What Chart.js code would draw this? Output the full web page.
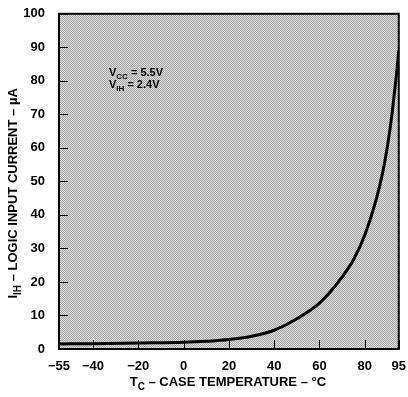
<!DOCTYPE html>
<html>
<head>
<meta charset="utf-8">
<script src="https://cdn.jsdelivr.net/npm/chart.js@4/dist/chart.umd.min.js"></script>
<style>
html, body { margin: 0; padding: 0; background: #fff; }
</style>
</head>
<body>
<canvas id="chart" width="408" height="397"></canvas>
<script>
// curve: case temperature (°C) vs logic input current (µA)
const temps = [-55, -40, -20, 0, 10, 20, 30, 40, 50, 60, 65, 70, 75, 80, 85, 88, 90, 92, 93, 94, 95];
const current = [1.5, 1.6, 1.8, 2.0, 2.3, 2.8, 3.8, 5.6, 9.0, 13.7, 17.2, 21.5, 26.6, 34, 44.5, 53, 60.5, 70, 76, 82, 89];
const xTicks = [-55, -40, -20, 0, 20, 40, 60, 80, 95];
const yTicks = [0, 10, 20, 30, 40, 50, 60, 70, 80, 90, 100];

const FONT = '"Liberation Sans", Arial, sans-serif';

// stipple fill for the plot area
function makePattern(ctx) {
    const c = document.createElement('canvas');
    c.width = 2; c.height = 2;
    const p = c.getContext('2d');
    p.fillStyle = '#dedede';
    p.fillRect(0, 0, 2, 2);
    p.fillStyle = '#a4a4a4';
    p.fillRect(0, 0, 1, 1);
    p.fillRect(1, 1, 1, 1);
    return ctx.createPattern(c, 'repeat');
}

// draw text pieces with subscripts, centred on x
function drawRich(ctx, parts, x, y, size) {
    let total = 0;
    parts.forEach(function(p) {
        ctx.font = 'bold ' + (p.sub ? size - 3 : size) + 'px ' + FONT;
        p.w = ctx.measureText(p.t).width;
        total += p.w;
    });
    let cx = x - total / 2;
    ctx.textAlign = 'left';
    ctx.textBaseline = 'alphabetic';
    parts.forEach(function(p) {
        ctx.font = 'bold ' + (p.sub ? size - 3 : size) + 'px ' + FONT;
        ctx.fillText(p.t, cx, p.sub ? y + 4 : y);
        cx += p.w;
    });
}

function drawLeft(ctx, parts, x, y, size) {
    let cx = x;
    ctx.textAlign = 'left';
    ctx.textBaseline = 'alphabetic';
    parts.forEach(function(p) {
        ctx.font = 'bold ' + (p.sub ? size - 3 : size) + 'px ' + FONT;
        ctx.fillText(p.t, cx, p.sub ? y + 3 : y);
        cx += ctx.measureText(p.t).width;
    });
}

const decor = {
    id: 'decor',
    beforeDatasetsDraw(chart) {
        const ctx = chart.ctx;
        const a = chart.chartArea;
        ctx.save();
        ctx.fillStyle = makePattern(ctx);
        ctx.fillRect(a.left, a.top, a.right - a.left, a.bottom - a.top);

        // inner tick marks
        ctx.strokeStyle = '#000';
        ctx.lineWidth = 1;
        const xs = chart.scales.x, ys = chart.scales.y;
        xTicks.forEach(function(v) {
            const px = Math.round(xs.getPixelForValue(v)) + 0.5;
            ctx.beginPath();
            ctx.moveTo(px, a.bottom);
            ctx.lineTo(px, a.bottom - 9);
            ctx.stroke();
        });
        yTicks.forEach(function(v) {
            const py = Math.round(ys.getPixelForValue(v)) + 0.5;
            ctx.beginPath();
            ctx.moveTo(a.left, py);
            ctx.lineTo(a.left + 9, py);
            ctx.stroke();
        });

        // annotation
        ctx.fillStyle = '#000';
        drawLeft(ctx, [{t: 'V'}, {t: 'CC', sub: true}, {t: ' = 5.5V'}], 109, 76, 11);
        drawLeft(ctx, [{t: 'V'}, {t: 'IH', sub: true}, {t: ' = 2.4V'}], 109, 88, 11);
        ctx.restore();
    },
    afterDraw(chart) {
        const ctx = chart.ctx;
        const a = chart.chartArea;
        ctx.save();
        ctx.strokeStyle = '#000';
        ctx.lineWidth = 2;
        ctx.strokeRect(a.left, a.top, a.right - a.left, a.bottom - a.top);

        ctx.fillStyle = '#000';
        drawRich(ctx, [{t: 'T'}, {t: 'C', sub: true}, {t: ' \u2013 CASE TEMPERATURE \u2013 \u00b0C'}],
            (a.left + a.right) / 2 - 1, 386, 13);

        ctx.translate(17, (a.top + a.bottom) / 2 + 12);
        ctx.rotate(-Math.PI / 2);
        drawRich(ctx, [{t: 'I'}, {t: 'IH', sub: true}, {t: ' \u2013 LOGIC INPUT CURRENT \u2013 \u00b5A'}], 0, 0, 13);
        ctx.restore();
    }
};

new Chart(document.getElementById('chart'), {
    type: 'line',
    data: {
        datasets: [{
            data: temps.map(function(t, i) { return {x: t, y: current[i]}; }),
            borderColor: '#000',
            borderWidth: 3,
            pointRadius: 0,
            cubicInterpolationMode: 'monotone',
            fill: false
        }]
    },
    options: {
        responsive: false,
        animation: false,
        layout: { padding: { left: 0, right: 9, top: 13, bottom: 0 } },
        plugins: { legend: { display: false }, tooltip: { enabled: false } },
        scales: {
            x: {
                type: 'linear',
                min: -55,
                max: 95,
                afterBuildTicks: function(scale) {
                    scale.ticks = xTicks.map(function(v) { return {value: v}; });
                },
                afterFit: function(scale) { scale.height = 48; },
                grid: { display: false },
                border: { display: false },
                ticks: {
                    color: '#000',
                    padding: 2,
                    maxRotation: 0,
                    autoSkip: false,
                    font: { family: FONT, size: 13, weight: 'bold' },
                    callback: function(v) { return v < 0 ? '\u2212' + Math.abs(v) : String(v); }
                }
            },
            y: {
                min: 0,
                max: 100,
                afterBuildTicks: function(scale) {
                    scale.ticks = yTicks.map(function(v) { return {value: v}; });
                },
                afterFit: function(scale) { scale.width = 59; },
                grid: { display: false },
                border: { display: false },
                ticks: {
                    color: '#000',
                    padding: 6,
                    font: { family: FONT, size: 13, weight: 'bold' }
                }
            }
        }
    },
    plugins: [decor]
});
</script>
</body>
</html>
